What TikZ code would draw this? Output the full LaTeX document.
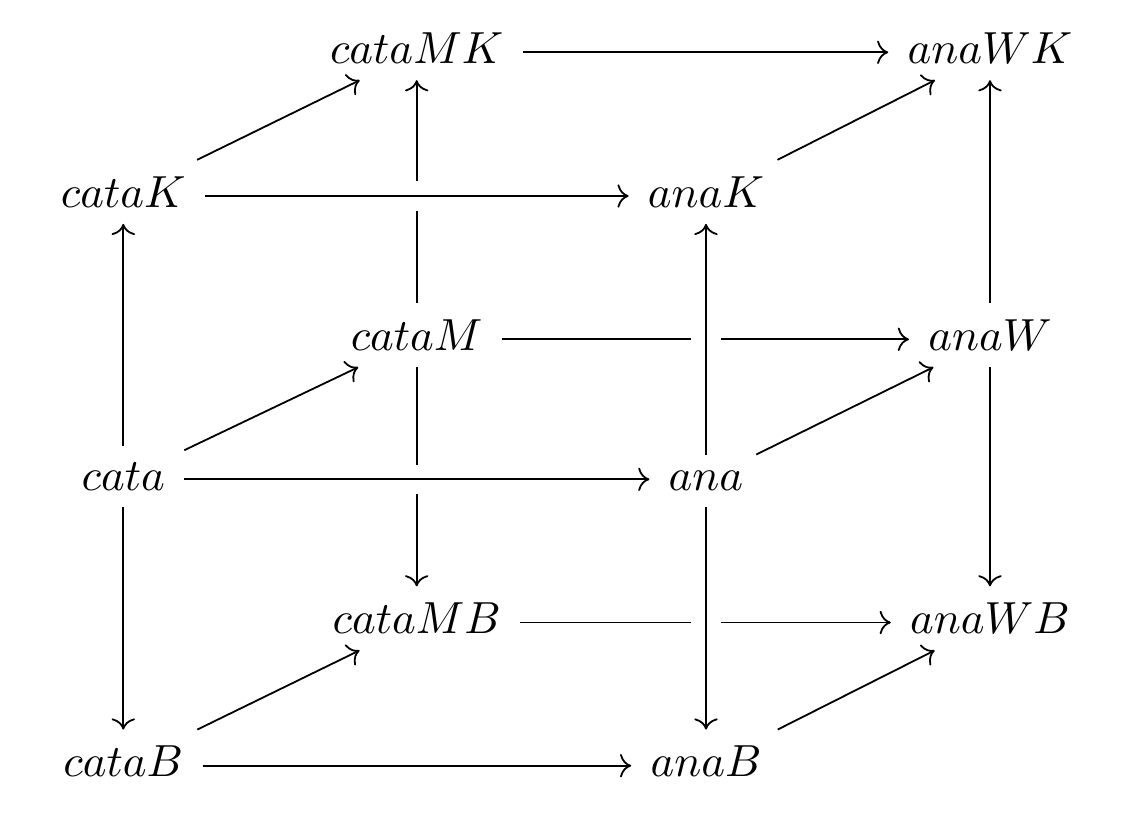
\documentclass[tikz,border=0pt]{standalone}
\usetikzlibrary{cd}
\begin{document}
\begin{tikzpicture}[x=0.2222pt,y=-0.2222pt,
  obj/.style={shape=asymmetrical rectangle, inner xsep=4.3pt, inner ysep=3.7pt, outer sep=0pt},
  arr/.style={->, line width=0.4pt},
  over/.style={preaction={draw=white, line width=6.5pt, -}}]
\useasboundingbox (0,0) rectangle (1138,840);
\node[obj] (cataMK) at (416.7,52.3) {$cataMK$};
\node[obj] (anaWK)  at (990,52.3)   {$anaWK$};
\node[obj] (cataK)  at (123.3,196)  {$cataK$};
\node[obj] (anaK)   at (706,196)    {$anaK$};
\node[obj] (cataM)  at (416.7,339.3) {$cataM$};
\node[obj] (anaW)   at (990,339.3)  {$anaW$};
\node[obj] (cata)   at (123.3,479.3) {$cata$};
\node[obj] (ana)    at (706,479.3)  {$ana$};
\node[obj] (cataMB) at (416.7,622.5) {$cataMB$};
\node[obj] (anaWB)  at (990,622.5)  {$anaWB$};
\node[obj] (cataB)  at (123.3,765.7) {$cataB$};
\node[obj] (anaB)   at (706,765.7)  {$anaB$};
% back arrows
\draw[arr] (cataK) -- (cataMK);
\draw[arr] (cataMK) -- (anaWK);
\draw[arr] (anaK) -- (anaWK);
\draw[arr] (cataM) -- (cataMK);
\draw[arr] (anaW) -- (anaWK);
\draw[arr] (cata) -- (cataK);
\draw[arr] (cata) -- (cataM);
\draw[arr] (ana) -- (anaW);
\draw[arr] (cataM) -- (anaW);
\draw[arr] (cataM) -- (cataMB);
\draw[arr] (anaW) -- (anaWB);
\draw[arr] (cata) -- (cataB);
\draw[arr] (cataB) -- (cataMB);
\draw[arr] (anaB) -- (anaWB);
\draw[arr] (cataMB) -- (anaWB);
\draw[arr] (cataB) -- (anaB);
% crossing-over arrows
\draw[arr,over] (cataK) -- (anaK);
\draw[arr,over] (cata) -- (ana);
\draw[arr,over] (ana) -- (anaK);
\draw[arr,over] (ana) -- (anaB);
\end{tikzpicture}
\end{document}
